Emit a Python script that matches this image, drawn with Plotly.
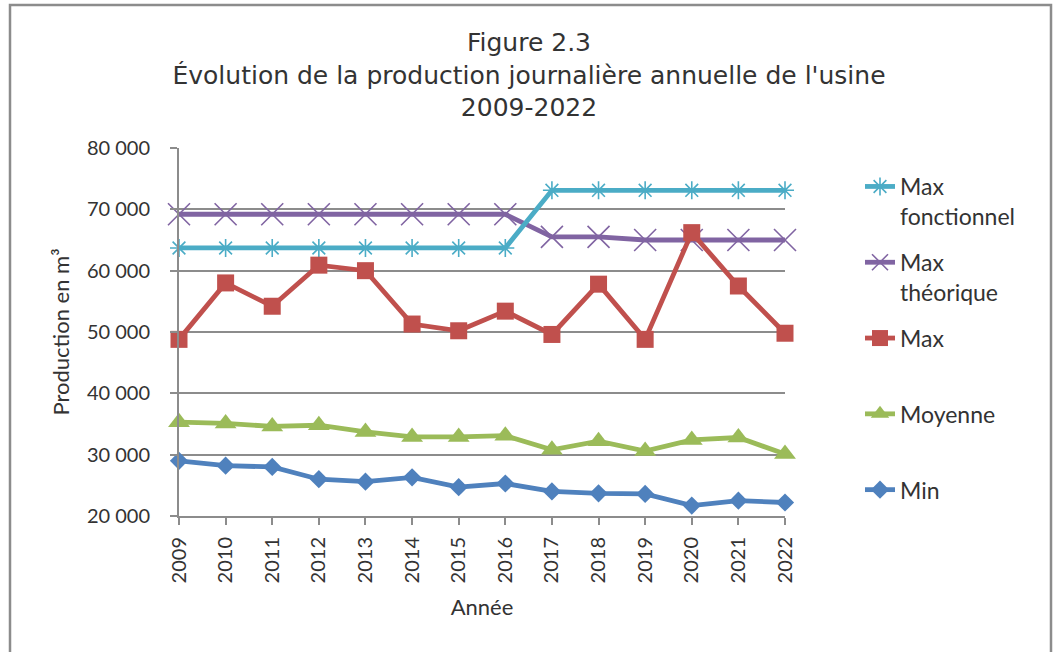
import plotly.graph_objects as go

years = [2009, 2010, 2011, 2012, 2013, 2014, 2015, 2016, 2017, 2018, 2019, 2020, 2021, 2022]
max_fonctionnel = [63700, 63700, 63700, 63700, 63700, 63700, 63700, 63700, 73100, 73100, 73100, 73100, 73100, 73100]
max_theorique = [69200, 69200, 69200, 69200, 69200, 69200, 69200, 69200, 65500, 65500, 65000, 65000, 65000, 65000]
max_vals = [48800, 58000, 54200, 60900, 60000, 51300, 50200, 53400, 49600, 57800, 48800, 66200, 57500, 49800]
moyenne = [35300, 35100, 34600, 34800, 33700, 32900, 32900, 33100, 30800, 32200, 30600, 32400, 32800, 30100]
min_vals = [29000, 28200, 28000, 26000, 25600, 26300, 24700, 25300, 24000, 23700, 23600, 21700, 22500, 22200]

y_ticks = [20000, 30000, 40000, 50000, 60000, 70000, 80000]

FONT = "Lato"
TXT = "#333333"
GRID = "#8c8c8c"

fig = go.Figure()

def add(name, y, color, symbol, size, rank, open_sym=False):
    marker = dict(symbol=symbol, size=size, color=color)
    if open_sym:
        marker["line"] = dict(color=color, width=1.6)
    fig.add_trace(go.Scatter(
        x=years, y=y, name=name, mode="lines+markers",
        line=dict(color=color, width=4.8),
        marker=marker, cliponaxis=False, legendrank=rank,
        legendgroup=name,
    ))

add("Min<br>\u00a0", min_vals, "#4F81BD", "diamond", 14, 5)
add("Moyenne<br>\u00a0", moyenne, "#9BBB59", "triangle-up", 19, 4)
add("Max<br>théorique", max_theorique, "#8064A2", "x-thin-open", 22, 2, True)
add("Max<br>fonctionnel", max_fonctionnel, "#4BACC6", "asterisk-open", 15, 1, True)
add("Max<br>\u00a0", max_vals, "#C0504D", "square", 17, 3)

L, R, T, B = 179, 785, 148, 516
W, H = 1058, 652
pw, ph = R - L, B - T

fig.update_layout(
    width=W, height=H,
    margin=dict(l=L, r=W - R, t=T, b=H - B, autoexpand=False),
    paper_bgcolor="white", plot_bgcolor="white",
    separators=", ",
    font=dict(family=FONT, size=20, color=TXT),
    title=dict(
        text="Figure 2.3<br>Évolution de la production journalière annuelle de l'usine<br>2009-2022",
        x=0.5, xref="container", xanchor="center",
        y=1 - 51 / H, yref="container", yanchor="top",
        font=dict(family="DejaVu Sans", size=25, color=TXT),
    ),
    xaxis=dict(
        range=[2009, 2022], tickmode="array", tickvals=years,
        ticktext=[str(y) for y in years], tickangle=-90,
        showgrid=False, showline=True, linecolor=GRID, linewidth=2,
        ticks="outside", ticklen=7, tickcolor=GRID, tickwidth=2,
        tickfont=dict(size=20, color=TXT), automargin=False,
        ticklabelstandoff=4,
        title=dict(text="Année", font=dict(size=22, color=TXT), standoff=17),
        zeroline=False,
    ),
    yaxis=dict(
        range=[20000, 80000], tickmode="array", tickvals=y_ticks,
        tickformat=",d",
        showgrid=True, gridcolor=GRID, gridwidth=2,
        showline=True, linecolor=GRID, linewidth=2,
        ticks="outside", ticklen=7, tickcolor=GRID, tickwidth=2,
        tickfont=dict(size=20, color=TXT), automargin=False,
        ticklabelstandoff=16,
        title=dict(text="Production en m³", font=dict(size=22, color=TXT), standoff=11),
        zeroline=False,
    ),
    legend=dict(
        x=(860 - L) / pw, xanchor="left",
        y=(B - 165) / ph, yanchor="top",
        font=dict(size=23, color=TXT),
        valign="top", tracegroupgap=13, maxheight=620,
        bgcolor="rgba(0,0,0,0)",
    ),
    shapes=[dict(
        type="rect", xref="paper", yref="paper",
        x0=(10 - L) / pw, x1=(1051 - L) / pw,
        y0=(B - 700) / ph, y1=(B - 5) / ph,
        line=dict(color="#8c8c8c", width=2.5), layer="below",
    )],
)

fig.write_html(
    "out.html",
    config={"displayModeBar": False},
    post_script="document.body.style.margin='0px';",
)
